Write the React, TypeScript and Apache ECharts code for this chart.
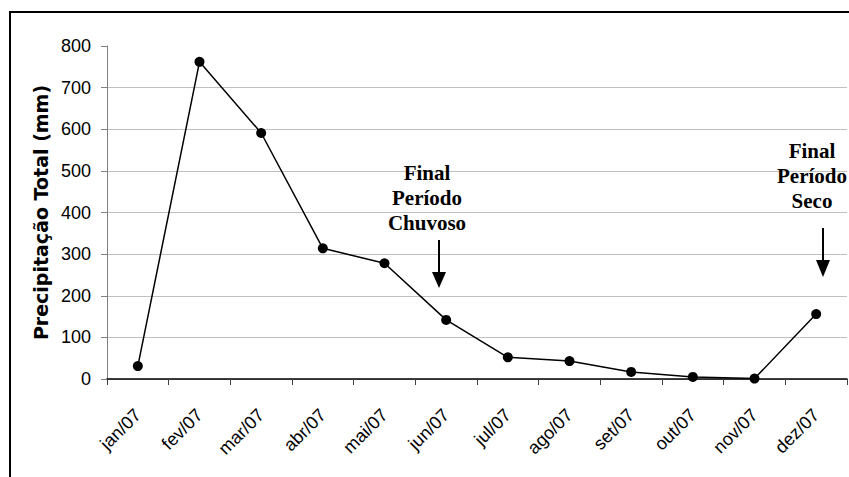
import React, { useEffect, useRef } from "react";
import * as echarts from "echarts";

const months = ["jan/07", "fev/07", "mar/07", "abr/07", "mai/07", "jun/07", "jul/07", "ago/07", "set/07", "out/07", "nov/07", "dez/07"];
const precipitation = [31, 762, 591, 314, 278, 142, 52, 43, 17, 5, 1, 156];
const yTicks = { min: 0, max: 800, interval: 100 };
const yTitle = "Precipitação Total (mm)";
const noteRain = "Final\nPeríodo\nChuvoso";
const noteDry = "Final\nPeríodo\nSeco";

export default function App() {
  const ref = useRef<HTMLDivElement>(null);
  useEffect(() => {
    if (!ref.current) return;
    const chart = echarts.init(ref.current, undefined, { renderer: "svg" });
    const sans = "Liberation Sans";
    const serif = "'Liberation Serif', 'Times New Roman', serif";
    chart.setOption({
      animation: false,
      backgroundColor: "#ffffff",
      grid: { left: 107, right: 2, top: 46, bottom: 98 },
      xAxis: {
        type: "category",
        data: months,
        boundaryGap: true,
        axisLine: { show: true, lineStyle: { color: "#000000", width: 1.5 } },
        axisTick: { show: true, length: 6, lineStyle: { color: "#404040", width: 1 } },
        axisLabel: { rotate: 45, fontSize: 18, fontFamily: sans, color: "#000000", margin: 33 },
        splitLine: { show: false },
      },
      yAxis: {
        type: "value",
        min: yTicks.min,
        max: yTicks.max,
        interval: yTicks.interval,
        name: yTitle,
        nameLocation: "middle",
        nameGap: 53,
        nameTextStyle: { fontSize: 19, fontWeight: "bold", fontFamily: "DejaVu Sans", color: "#000000" },
        axisLine: { show: true, lineStyle: { color: "#808080", width: 1 } },
        axisTick: { show: true, length: 6, lineStyle: { color: "#808080", width: 1 } },
        axisLabel: { fontSize: 18, fontFamily: sans, color: "#000000", margin: 16 },
        splitLine: { show: true, showMaxLine: false, lineStyle: { color: "#c0c0c0", width: 1 } },
      },
      series: [
        {
          type: "line",
          data: precipitation,
          symbol: "circle",
          symbolSize: 10,
          itemStyle: { color: "#000000" },
          lineStyle: { color: "#000000", width: 1.5 },
          z: 5,
        },
      ],
      graphic: [
        { type: "rect", shape: { x: 10, y: 12, width: 1000, height: 700 }, style: { fill: "none", stroke: "#000000", lineWidth: 2 }, silent: true, z: 10 },
        { type: "text", x: 427, y: 198, style: { text: noteRain, font: `bold 21px ${serif}`, fill: "#000000", align: "center", verticalAlign: "middle", lineHeight: 25 }, z: 10 },
        { type: "line", shape: { x1: 439, y1: 240, x2: 439, y2: 273 }, style: { stroke: "#000000", lineWidth: 2 }, z: 10 },
        { type: "polygon", shape: { points: [[432, 272], [446, 272], [439, 288]] }, style: { fill: "#000000" }, z: 10 },
        { type: "text", x: 812, y: 176, style: { text: noteDry, font: `bold 21px ${serif}`, fill: "#000000", align: "center", verticalAlign: "middle", lineHeight: 25 }, z: 10 },
        { type: "line", shape: { x1: 823, y1: 228, x2: 823, y2: 261 }, style: { stroke: "#000000", lineWidth: 2 }, z: 10 },
        { type: "polygon", shape: { points: [[816, 260], [830, 260], [823, 277]] }, style: { fill: "#000000" }, z: 10 },
      ],
    });
    return () => chart.dispose();
  }, []);
  return <div ref={ref} style={{ position: "absolute", left: 0, top: 0, width: 849, height: 477 }} />;
}
